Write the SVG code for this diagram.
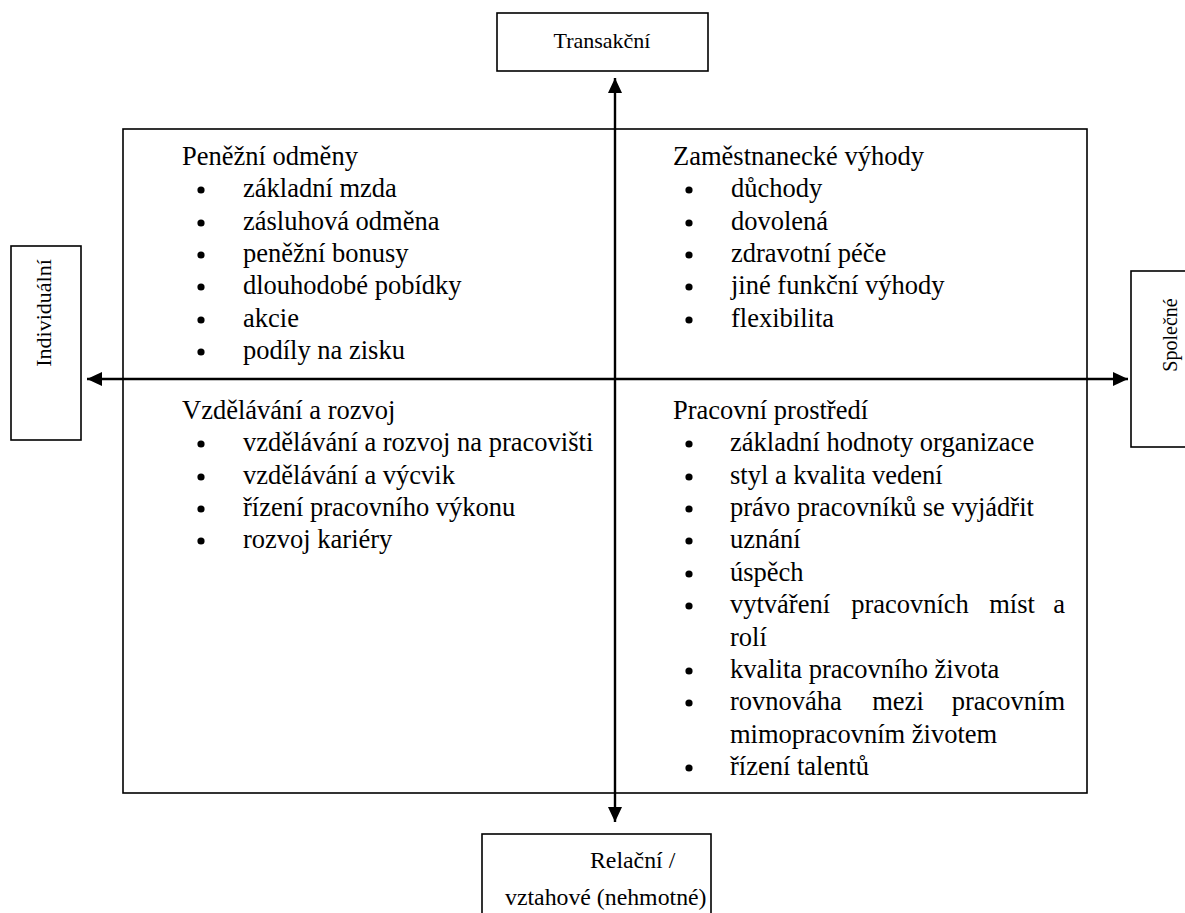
<svg xmlns="http://www.w3.org/2000/svg" width="1185" height="913" viewBox="0 0 1185 913" font-family="Liberation Serif, Tinos, Times New Roman, DejaVu Serif, serif">
<style>
.t{font-size:26.5px;fill:#000}
.lbl{font-size:22px;fill:#000}
.lbl24{font-size:23.8px;fill:#000}
.lbl20{font-size:20px;fill:#000}
.box{fill:#fff;stroke:#000;stroke-width:1.6}
.ax{stroke:#000;stroke-width:2.4;fill:none}
.b{fill:#000}
</style>
<defs>
<marker id="ah" viewBox="0 0 15 14" refX="15" refY="7" markerWidth="15" markerHeight="14" markerUnits="userSpaceOnUse" orient="auto">
<path d="M0,0 L15,7 L0,14 Z" fill="#000"/>
</marker>
</defs>
<rect width="1185" height="913" fill="#fff"/>

<g id="main-frame">
<rect class="box" x="123" y="129" width="964" height="664"/>
</g>

<g id="connectors">
<line class="ax" x1="615" y1="379" x2="615" y2="78" marker-end="url(#ah)"/>
<line class="ax" x1="615" y1="379" x2="615" y2="822" marker-end="url(#ah)"/>
<line class="ax" x1="615" y1="379" x2="87" y2="379" marker-end="url(#ah)"/>
<line class="ax" x1="615" y1="379" x2="1128" y2="379" marker-end="url(#ah)"/>
</g>

<g id="node-transakcni">
<rect class="box" x="497" y="13" width="211" height="58"/>
<text class="lbl" x="602" y="48" text-anchor="middle">Transakční</text>
</g>

<g id="node-relacni">
<rect class="box" x="482" y="834" width="229" height="100"/>
<text class="lbl24" x="590" y="868">Relační /</text>
<text class="lbl24" x="505" y="905">vztahové (nehmotné)</text>
</g>

<g id="node-individualni">
<rect class="box" x="11" y="246" width="70" height="194"/>
<text class="lbl" transform="translate(51,313) rotate(-90)" text-anchor="middle">Individuální</text>
</g>

<g id="node-spolecne">
<rect class="box" x="1131" y="271" width="80" height="176"/>
<text class="lbl20" transform="translate(1177,335) rotate(-90)" text-anchor="middle">Společné</text>
</g>

<g id="node-penezni-odmeny">
<text class="t" x="182" y="165">Peněžní odměny</text>
<circle class="b" cx="201" cy="190" r="3.6"/><text class="t" x="243" y="197">základní mzda</text>
<circle class="b" cx="201" cy="223" r="3.6"/><text class="t" x="243" y="230">zásluhová odměna</text>
<circle class="b" cx="201" cy="255" r="3.6"/><text class="t" x="243" y="262">peněžní bonusy</text>
<circle class="b" cx="201" cy="287" r="3.6"/><text class="t" x="243" y="294">dlouhodobé pobídky</text>
<circle class="b" cx="201" cy="320" r="3.6"/><text class="t" x="243" y="327">akcie</text>
<circle class="b" cx="201" cy="352" r="3.6"/><text class="t" x="243" y="359">podíly na zisku</text>
</g>

<g id="node-zamestnanecke-vyhody">
<text class="t" x="673" y="165">Zaměstnanecké výhody</text>
<circle class="b" cx="689" cy="190" r="3.6"/><text class="t" x="731" y="197">důchody</text>
<circle class="b" cx="689" cy="223" r="3.6"/><text class="t" x="731" y="230">dovolená</text>
<circle class="b" cx="689" cy="255" r="3.6"/><text class="t" x="731" y="262">zdravotní péče</text>
<circle class="b" cx="689" cy="287" r="3.6"/><text class="t" x="731" y="294">jiné funkční výhody</text>
<circle class="b" cx="689" cy="320" r="3.6"/><text class="t" x="731" y="327">flexibilita</text>
</g>

<g id="node-vzdelavani">
<text class="t" x="182" y="419">Vzdělávání a rozvoj</text>
<circle class="b" cx="201" cy="444" r="3.6"/><text class="t" x="243" y="451">vzdělávání a rozvoj na pracovišti</text>
<circle class="b" cx="201" cy="477" r="3.6"/><text class="t" x="243" y="484">vzdělávání a výcvik</text>
<circle class="b" cx="201" cy="509" r="3.6"/><text class="t" x="243" y="516">řízení pracovního výkonu</text>
<circle class="b" cx="201" cy="541" r="3.6"/><text class="t" x="243" y="548">rozvoj kariéry</text>
</g>

<g id="node-pracovni-prostredi">
<text class="t" x="673" y="419">Pracovní prostředí</text>
<circle class="b" cx="689" cy="444" r="3.6"/><text class="t" x="730" y="451">základní hodnoty organizace</text>
<circle class="b" cx="689" cy="477" r="3.6"/><text class="t" x="730" y="484">styl a kvalita vedení</text>
<circle class="b" cx="689" cy="509" r="3.6"/><text class="t" x="730" y="516">právo pracovníků se vyjádřit</text>
<circle class="b" cx="689" cy="541" r="3.6"/><text class="t" x="730" y="548">uznání</text>
<circle class="b" cx="689" cy="574" r="3.6"/><text class="t" x="730" y="581">úspěch</text>
<circle class="b" cx="689" cy="606" r="3.6"/>
<text class="t" x="730" y="613">vytváření</text>
<text class="t" x="910" y="613" text-anchor="middle">pracovních</text>
<text class="t" x="1012" y="613" text-anchor="middle">míst</text>
<text class="t" x="1065" y="613" text-anchor="end">a</text>
<text class="t" x="730" y="646">rolí</text>
<circle class="b" cx="689" cy="671" r="3.6"/><text class="t" x="730" y="678">kvalita pracovního života</text>
<circle class="b" cx="689" cy="703" r="3.6"/>
<text class="t" x="730" y="710">rovnováha</text>
<text class="t" x="898" y="710" text-anchor="middle">mezi</text>
<text class="t" x="1065" y="710" text-anchor="end">pracovním</text>
<text class="t" x="730" y="743">mimopracovním životem</text>
<circle class="b" cx="689" cy="768" r="3.6"/><text class="t" x="730" y="775">řízení talentů</text>
</g>
</svg>
